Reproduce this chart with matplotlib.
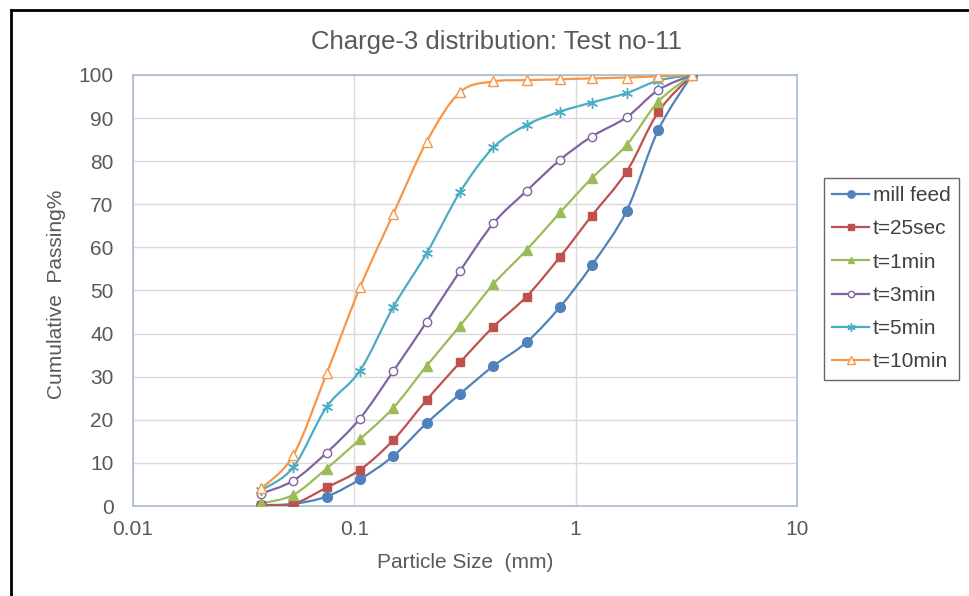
import numpy as np
import matplotlib
matplotlib.use("Agg")
import matplotlib.pyplot as plt
from matplotlib.path import Path
from matplotlib.patches import PathPatch
from matplotlib.lines import Line2D
from matplotlib.ticker import FixedLocator, FixedFormatter, NullLocator

plt.rcParams['font.family'] = ['Liberation Sans', 'DejaVu Sans']

# sieve sizes (mm)
sizes = [0.038, 0.053, 0.075, 0.106, 0.15, 0.212, 0.3, 0.425, 0.6, 0.85, 1.18, 1.7, 2.36, 3.35]

mill_feed = [0.2, 0.5, 2.2, 6.2, 11.6, 19.2, 26.0, 32.5, 38.0, 46.2, 55.8, 68.5, 87.2, 100]
t_25sec = [0.2, 0.5, 4.3, 8.4, 15.3, 24.6, 33.3, 41.6, 48.6, 57.8, 67.3, 77.6, 91.4, 100]
t_1min = [0.6, 2.6, 8.7, 15.5, 22.8, 32.5, 41.8, 51.5, 59.4, 68.1, 76.0, 83.8, 93.8, 100]
t_3min = [2.9, 5.9, 12.4, 20.3, 31.3, 42.7, 54.5, 65.6, 73.1, 80.3, 85.7, 90.2, 96.5, 100]
t_5min = [3.7, 9.0, 23.0, 31.4, 46.2, 58.6, 72.8, 83.2, 88.4, 91.5, 93.6, 95.8, 98.7, 100]
t_10min = [4.1, 11.8, 30.8, 50.7, 67.8, 84.5, 96.0, 98.5, 98.8, 99.0, 99.2, 99.4, 99.7, 100]

labels = ['mill feed', 't=25sec', 't=1min', 't=3min', 't=5min', 't=10min']
series = [mill_feed, t_25sec, t_1min, t_3min, t_5min, t_10min]
colors = ['#4F81BD', '#C0504D', '#9BBB59', '#8064A2', '#4BACC6', '#F79646']
markers = ['o', 's', '^', 'o', (6, 2, 0), '^']
filled = [True, True, True, False, False, False]
msizes = [7, 6, 6.5, 6, 8, 7]


def smooth_path(x, y):
    # Excel-style smoothed line: cubic bezier through points, done in log-x space
    lx = np.log10(x)
    y = np.asarray(y, dtype=float)
    n = len(lx)
    verts = [(x[0], y[0])]
    codes = [Path.MOVETO]
    for i in range(n - 1):
        i0 = max(i - 1, 0)
        i3 = min(i + 2, n - 1)
        c1x = lx[i] + (lx[i + 1] - lx[i0]) / 6
        c1y = y[i] + (y[i + 1] - y[i0]) / 6
        c2x = lx[i + 1] - (lx[i3] - lx[i]) / 6
        c2y = y[i + 1] - (y[i3] - y[i]) / 6
        verts += [(10 ** c1x, c1y), (10 ** c2x, c2y), (x[i + 1], y[i + 1])]
        codes += [Path.CURVE4] * 3
    return Path(verts, codes)


fig = plt.figure(figsize=(9.69, 5.96), dpi=100)
ax = fig.add_axes([0.1373, 0.1510, 0.6852, 0.7232])

ax.set_xscale('log')
ax.set_xlim(0.01, 10)
ax.set_ylim(0, 100)

handles = []
for vals, lab, c, m, f, ms in zip(series, labels, colors, markers, filled, msizes):
    path = smooth_path(sizes, vals)
    ax.add_patch(PathPatch(path, facecolor='none', edgecolor=c, lw=1.6, zorder=3))
    fc = c if f else 'white'
    ax.plot(sizes, vals, linestyle='none', marker=m, markersize=ms,
            markerfacecolor=fc, markeredgecolor=c, markeredgewidth=1.0, zorder=4)
    handles.append(Line2D([], [], color=c, lw=1.6, marker=m, markersize=ms * 0.75,
                          markerfacecolor=fc, markeredgecolor=c, markeredgewidth=1.0))

ax.xaxis.set_major_locator(FixedLocator([0.01, 0.1, 1, 10]))
ax.xaxis.set_major_formatter(FixedFormatter(['0.01', '0.1', '1', '10']))
ax.xaxis.set_minor_locator(NullLocator())
ax.set_yticks(range(0, 101, 10))
ax.tick_params(length=0, labelsize=15, labelcolor='#595959')
ax.tick_params(axis='x', pad=10)
ax.tick_params(axis='y', pad=14)
ax.grid(True, color='#D9D9D9', lw=1)
ax.set_axisbelow(True)
for s in ax.spines.values():
    s.set_color('#A9BCCD')
    s.set_linewidth(1.2)

fig.text(0.512, 0.929, 'Charge-3 distribution: Test no-11', ha='center', va='center',
         fontsize=18.5, color='#595959')
fig.text(0.480, 0.057, 'Particle Size  (mm)', ha='center', va='center',
         fontsize=15, color='#595959')
fig.text(0.058, 0.507, 'Cumulative  Passing%', ha='center', va='center',
         rotation=90, fontsize=15, color='#595959')

leg = fig.legend(handles=handles, labels=labels, loc='upper left',
                 bbox_to_anchor=(824 / 969, 1 - 178 / 596), frameon=True,
                 fontsize=15, handlelength=1.75, handletextpad=0.2,
                 labelspacing=0.68, borderpad=0.4, borderaxespad=0, fancybox=False,
                 labelcolor='#404040')
leg.get_frame().set_edgecolor('#404040')
leg.get_frame().set_linewidth(1.0)

# outer chart border (left and top visible)
fig.add_artist(Line2D([11 / 969, 11 / 969], [0, 1 - 10 / 596], color='black', lw=2,
                      transform=fig.transFigure))
fig.add_artist(Line2D([11 / 969, 1], [1 - 10 / 596, 1 - 10 / 596], color='black', lw=2,
                      transform=fig.transFigure))

fig.savefig('out.png', dpi=100)
